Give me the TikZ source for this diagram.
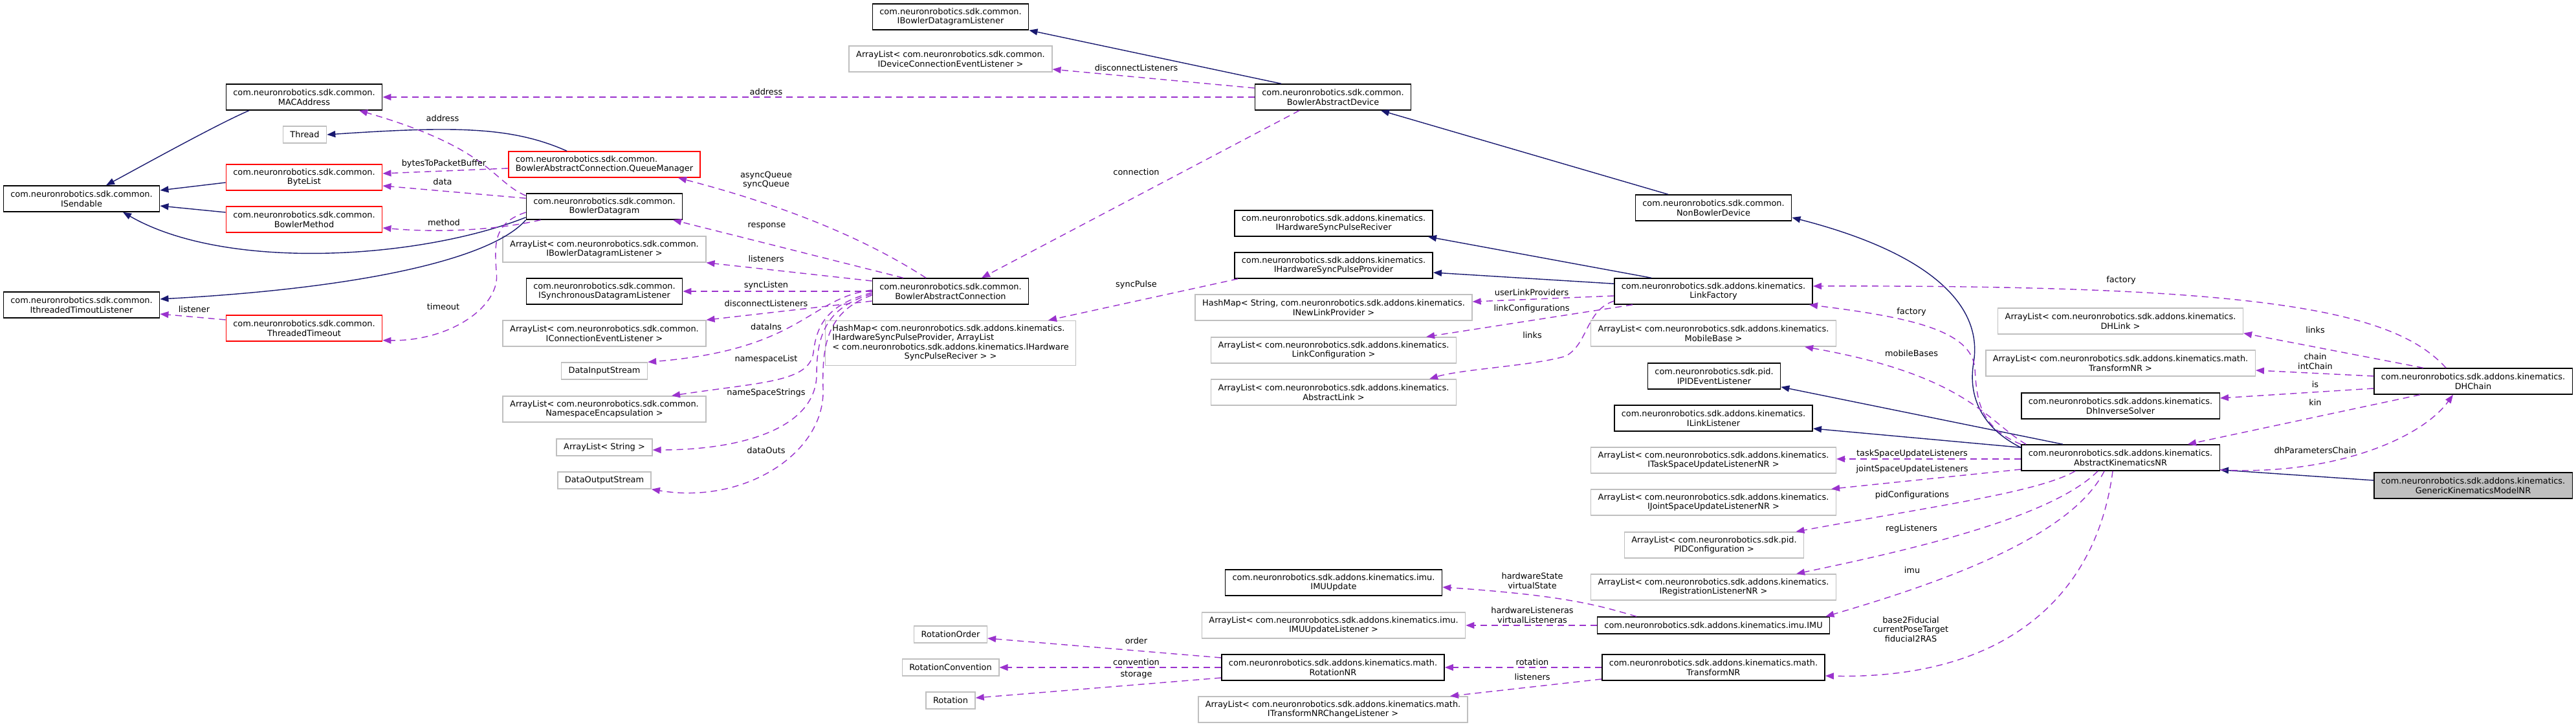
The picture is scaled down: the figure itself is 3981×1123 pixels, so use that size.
\documentclass[tikz,border=0pt]{standalone}
\usepackage{fontspec}
\setmainfont{DejaVu Sans}
\usetikzlibrary{arrows.meta}
\definecolor{cnavy}{HTML}{191970}
\definecolor{corchid}{HTML}{9A32CD}
\definecolor{cgrey}{HTML}{BFBFBF}
\definecolor{cred}{HTML}{FF0000}
\tikzset{
  every picture/.style={font=\fontsize{12.9}{14.6}\selectfont},
  cls/.style={draw=black, fill=white, line width=1.5pt, inner xsep=11pt, inner ysep=2pt, align=center, minimum height=40pt},
  ext/.style={cls, draw=cgrey},
  trunc/.style={cls, draw=cred},
  main/.style={cls, fill=cgrey},
  one/.style={minimum height=26pt},
  four/.style={minimum height=69pt},
  inh/.style={draw=cnavy, line width=1.4pt, -{Triangle[length=13pt, width=10pt]}},
  uses/.style={draw=corchid, line width=1.4pt, dash pattern=on 10pt off 7pt, -{Triangle[length=13pt, width=10pt]}},
  lbl/.style={align=center, inner sep=0pt},
}

\begin{document}
\begin{tikzpicture}[x=1pt, y=-1pt]
  \useasboundingbox (0,0) rectangle (3981,1123);
  % common: interfaces and datagram parts
  \node[cls] (isend) at (126,307) {com.neuronrobotics.sdk.common.\\ISendable};
  \node[cls] (itto) at (126,471) {com.neuronrobotics.sdk.common.\\IthreadedTimoutListener};
  \node[cls] (mac) at (470,150) {com.neuronrobotics.sdk.common.\\MACAddress};
  \node[ext, one] (thread) at (471,208) {Thread};
  \node[trunc] (bytelist) at (470,274) {com.neuronrobotics.sdk.common.\\ByteList};
  \node[trunc] (bmethod) at (470,339) {com.neuronrobotics.sdk.common.\\BowlerMethod};
  \node[trunc] (ttimeout) at (470,507) {com.neuronrobotics.sdk.common.\\ThreadedTimeout};
  % connection members
  \node[trunc, align=left] (qman) at (934,254) {com.neuronrobotics.sdk.common.\\BowlerAbstractConnection.QueueManager};
  \node[cls] (bdgram) at (934,319) {com.neuronrobotics.sdk.common.\\BowlerDatagram};
  \node[ext] (alibdl) at (934,385) {ArrayList< com.neuronrobotics.sdk.common.\\IBowlerDatagramListener >};
  \node[cls] (isdl) at (934,450) {com.neuronrobotics.sdk.common.\\ISynchronousDatagramListener};
  \node[ext] (alicel) at (934,515) {ArrayList< com.neuronrobotics.sdk.common.\\IConnectionEventListener >};
  \node[ext, one] (dis) at (934,573) {DataInputStream};
  \node[ext] (alnse) at (934,632) {ArrayList< com.neuronrobotics.sdk.common.\\NamespaceEncapsulation >};
  \node[ext, one] (alstr) at (934,691) {ArrayList< String >};
  \node[ext, one] (dos) at (934,742) {DataOutputStream};
  % device and connection
  \node[cls] (ibdl) at (1469,26) {com.neuronrobotics.sdk.common.\\IBowlerDatagramListener};
  \node[ext] (alidcel) at (1469,91) {ArrayList< com.neuronrobotics.sdk.common.\\IDeviceConnectionEventListener >};
  \node[cls] (bac) at (1469,450) {com.neuronrobotics.sdk.common.\\BowlerAbstractConnection};
  \node[ext, four] (hmsync) at (1469,530) {\begin{tabular}{@{}l@{}}HashMap< com.neuronrobotics.sdk.addons.kinematics.\\IHardwareSyncPulseProvider, ArrayList\\< com.neuronrobotics.sdk.addons.kinematics.IHardware\\\multicolumn{1}{@{}c@{}}{SyncPulseReciver > >}\end{tabular}};
  \node[ext, one] (rorder) at (1469,980) {RotationOrder};
  \node[ext, one] (rconv) at (1469,1031) {RotationConvention};
  \node[ext, one] (rot) at (1469,1082) {Rotation};
  \node[cls] (bad) at (2060,150) {com.neuronrobotics.sdk.common.\\BowlerAbstractDevice};
  % kinematics helpers
  \node[cls] (ihspr) at (2061,345) {com.neuronrobotics.sdk.addons.kinematics.\\IHardwareSyncPulseReciver};
  \node[cls] (ihspp) at (2061,410) {com.neuronrobotics.sdk.addons.kinematics.\\IHardwareSyncPulseProvider};
  \node[ext] (hmnlp) at (2061,475) {HashMap< String, com.neuronrobotics.sdk.addons.kinematics.\\INewLinkProvider >};
  \node[ext] (allc) at (2061,541) {ArrayList< com.neuronrobotics.sdk.addons.kinematics.\\LinkConfiguration >};
  \node[ext] (alal) at (2061,606) {ArrayList< com.neuronrobotics.sdk.addons.kinematics.\\AbstractLink >};
  \node[cls] (imuupd) at (2061,900) {com.neuronrobotics.sdk.addons.kinematics.imu.\\IMUUpdate};
  \node[ext] (alimuul) at (2061,966) {ArrayList< com.neuronrobotics.sdk.addons.kinematics.imu.\\IMUUpdateListener >};
  \node[cls] (rotnr) at (2060,1031) {com.neuronrobotics.sdk.addons.kinematics.math.\\RotationNR};
  \node[ext] (altnrcl) at (2060,1096) {ArrayList< com.neuronrobotics.sdk.addons.kinematics.math.\\ITransformNRChangeListener >};
  % kinematics column
  \node[cls] (nbd) at (2648,321) {com.neuronrobotics.sdk.common.\\NonBowlerDevice};
  \node[cls] (lfac) at (2648,450) {com.neuronrobotics.sdk.addons.kinematics.\\LinkFactory};
  \node[ext] (almb) at (2648,515) {ArrayList< com.neuronrobotics.sdk.addons.kinematics.\\MobileBase >};
  \node[cls] (ipidel) at (2649,581) {com.neuronrobotics.sdk.pid.\\IPIDEventListener};
  \node[cls] (illis) at (2648,646) {com.neuronrobotics.sdk.addons.kinematics.\\ILinkListener};
  \node[ext] (altsul) at (2648,711) {ArrayList< com.neuronrobotics.sdk.addons.kinematics.\\ITaskSpaceUpdateListenerNR >};
  \node[ext] (aljsul) at (2648,776) {ArrayList< com.neuronrobotics.sdk.addons.kinematics.\\IJointSpaceUpdateListenerNR >};
  \node[ext] (alpidc) at (2649,842) {ArrayList< com.neuronrobotics.sdk.pid.\\PIDConfiguration >};
  \node[ext] (alregl) at (2648,907) {ArrayList< com.neuronrobotics.sdk.addons.kinematics.\\IRegistrationListenerNR >};
  \node[cls, one] (imu) at (2648,966) {com.neuronrobotics.sdk.addons.kinematics.imu.IMU};
  \node[cls] (tnr) at (2648,1031) {com.neuronrobotics.sdk.addons.kinematics.math.\\TransformNR};
  % chain and model
  \node[ext] (aldhl) at (3277,496) {ArrayList< com.neuronrobotics.sdk.addons.kinematics.\\DHLink >};
  \node[ext] (altnr) at (3277,561) {ArrayList< com.neuronrobotics.sdk.addons.kinematics.math.\\TransformNR >};
  \node[cls] (dhis) at (3277,627) {com.neuronrobotics.sdk.addons.kinematics.\\DhInverseSolver};
  \node[cls] (akin) at (3277,707) {com.neuronrobotics.sdk.addons.kinematics.\\AbstractKinematicsNR};
  \node[cls] (dhc) at (3822,589) {com.neuronrobotics.sdk.addons.kinematics.\\DHChain};
  \node[main] (gkm) at (3822,750) {com.neuronrobotics.sdk.addons.kinematics.\\GenericKinematicsModelNR};

  % inheritance
  \draw[inh] ([xshift=-85pt]mac.south) .. controls (340,190) and (240,245) .. ([xshift=38pt]isend.north);
  \draw[inh] ([yshift=-8pt]bytelist.west) -- ([yshift=13pt]isend.east);
  \draw[inh] ([yshift=11pt]bmethod.west) -- ([yshift=-11pt]isend.east);
  \draw[inh] ([yshift=4pt]bdgram.south west) .. controls (650,400) and (350,420) .. ([xshift=64pt]isend.south);
  \draw[inh] (bdgram.south west) .. controls (760,400) and (560,445) .. ([yshift=9pt]itto.east);
  \draw[inh] ([xshift=-58pt]qman.north) .. controls (790,195) and (700,195) .. (thread.east);
  \draw[inh] ([xshift=-80pt]bad.north) -- (ibdl.south east);
  \draw[inh] ([xshift=-70pt]nbd.north) -- ([xshift=74pt]bad.south);
  \draw[inh] ([yshift=-5pt]akin.north west) .. controls (3070,665) and (3040,620) .. (3050,560)
    .. controls (3065,470) and (2980,390) .. ([yshift=-15pt]nbd.east);
  \draw[inh] ([xshift=-96pt]lfac.north) -- ([xshift=-8pt]ihspr.south east);
  \draw[inh] ([yshift=-9pt]lfac.north west) -- ([yshift=-11pt]ihspp.east);
  \draw[inh] ([xshift=-89pt]akin.north) -- ([yshift=4pt]ipidel.south east);
  \draw[inh] ([yshift=-5pt]akin.north west) -- ([yshift=-16pt]illis.east);
  \draw[inh] ([yshift=8pt]gkm.west) -- ([yshift=2pt]akin.south east);

  % usage: common
  \draw[uses] (bad.west) -- (mac.east);
  \draw[uses] ([yshift=-4pt]bdgram.north west) .. controls (760,280) and (760,230) .. ([xshift=85pt]mac.south);
  \draw[uses] ([yshift=-6pt]qman.west) -- ([yshift=6pt]bytelist.east);
  \draw[uses] ([yshift=-8pt]bdgram.north west) -- ([yshift=-13pt]bytelist.east);
  \draw[uses] ([xshift=23pt]bdgram.south west) .. controls (770,355) and (680,360) .. ([yshift=-13pt]bmethod.east);
  \draw[uses] ([yshift=-9pt]bdgram.west) .. controls (760,345) and (765,380) .. (767,420)
    .. controls (775,470) and (700,527) .. ([yshift=2pt]ttimeout.south east);
  \draw[uses] ([yshift=13pt]ttimeout.west) -- ([yshift=-14pt]itto.east);
  \draw[uses] ([yshift=14pt]bad.west) -- ([yshift=-16pt]alidcel.east);
  \draw[uses] ([xshift=-52pt]bad.south) -- ([xshift=48pt]bac.north);
  % usage: connection
  \draw[uses] ([xshift=-38pt]bac.north) .. controls (1370,390) and (1260,330) .. ([xshift=114pt]qman.south);
  \draw[uses] ([xshift=-73pt]bac.north) -- ([xshift=106pt]bdgram.south);
  \draw[uses] ([yshift=16pt]bac.west) -- (alibdl.south east);
  \draw[uses] (bac.west) -- (isdl.east);
  \draw[uses] ([yshift=-15pt]bac.west) -- (alicel.north east);
  \draw[uses] ([yshift=2pt]bac.west) .. controls (1250,460) and (1240,540) .. (dis.north east);
  \draw[uses] ([yshift=-2pt]bac.west) .. controls (1280,470) and (1262,500) .. (1257,545)
    .. controls (1250,590) and (1180,590) .. ([xshift=104pt]alnse.north);
  \draw[uses] ([yshift=-4pt]bac.west) .. controls (1275,475) and (1262,520) .. (1262,580)
    .. controls (1260,660) and (1150,695) .. ([yshift=-4pt]alstr.east);
  \draw[uses] ([yshift=-6pt]bac.west) .. controls (1280,480) and (1270,530) .. (1272,600)
    .. controls (1276,700) and (1150,780) .. (dos.south east);
  % usage: link factory
  \draw[uses] ([xshift=6pt]ihspp.south west) -- ([xshift=151pt]hmsync.north);
  \draw[uses] ([yshift=-7pt]lfac.west) -- ([yshift=9pt]hmnlp.east);
  \draw[uses] ([xshift=-125pt]lfac.south) -- ([xshift=-47pt]allc.north east);
  \draw[uses] ([yshift=-15pt]lfac.west) .. controls (2450,480) and (2455,530) .. (2420,550)
    .. controls (2370,565) and (2260,570) .. ([xshift=-42pt]alal.north east);
  \draw[uses] ([xshift=-42pt]dhc.north) .. controls (3700,480) and (3500,440) .. ([yshift=8pt]lfac.east);
  \draw[uses] (akin.north west) .. controls (3060,660) and (3055,620) .. (3052,570)
    .. controls (3048,510) and (2950,490) .. ([xshift=-6pt]lfac.south east);
  \draw[uses] ([xshift=8pt]akin.north west) .. controls (3070,650) and (3040,580) .. ([xshift=-49pt]almb.south east);
  % usage: chain
  \draw[uses] ([xshift=-77pt]dhc.north) -- ([yshift=2pt]aldhl.south east);
  \draw[uses] ([yshift=8pt]dhc.west) -- ([yshift=-11pt]altnr.east);
  \draw[uses] ([yshift=-11pt]dhc.west) -- ([yshift=12pt]dhis.east);
  \draw[uses] ([xshift=-82pt]dhc.south) -- ([xshift=104pt]akin.north);
  \draw[uses] ([yshift=2pt]akin.south east) .. controls (3600,735) and (3740,680) .. ([xshift=-31pt]dhc.south);
  % usage: kinematics members
  \draw[uses] ([yshift=-2pt]akin.west) -- ([yshift=2pt]altsul.east);
  \draw[uses] ([yshift=-18pt]akin.west) -- ([xshift=-8pt]aljsul.north east);
  \draw[uses] ([xshift=-70pt]akin.south) .. controls (3150,760) and (3000,780) .. ([xshift=-13pt]alpidc.north east);
  \draw[uses] ([xshift=-35pt]akin.south) .. controls (3170,800) and (2950,850) .. ([xshift=-62pt]alregl.north east);
  \draw[uses] ([xshift=-25pt]akin.south) .. controls (3200,830) and (3000,900) .. ([xshift=-7pt]imu.north east);
  \draw[uses] ([xshift=-12pt]akin.south) .. controls (3240,920) and (3100,1050) .. ([yshift=-13pt]tnr.east);
  \draw[uses] ([xshift=-119pt]imu.north) .. controls (2470,935) and (2420,920) .. ([yshift=-7pt]imuupd.east);
  \draw[uses] (imu.west) -- (alimuul.east);
  \draw[uses] (tnr.west) -- (rotnr.east);
  \draw[uses] ([yshift=-18pt]tnr.west) -- ([xshift=-28pt]altnrcl.north east);
  \draw[uses] ([yshift=15pt]rotnr.west) -- ([yshift=-6pt]rorder.east);
  \draw[uses] (rotnr.west) -- (rconv.east);
  \draw[uses] ([yshift=-16pt]rotnr.west) -- ([yshift=4pt]rot.east);

  % edge labels
  \node[lbl] (lbAddrDev) at (1184,142) {address};
  \node[lbl] (lbAddrDg) at (684,183) {address};
  \node[lbl] (lbBtpb) at (686,253) {bytesToPacketBuffer};
  \node[lbl] (lbData) at (684,281) {data};
  \node[lbl] (lbMethod) at (686,344) {method};
  \node[lbl] (lbTimeout) at (685,474) {timeout};
  \node[lbl] (lbListener) at (300,478) {listener};
  \node[lbl] (lbDiscDev) at (1756,105) {disconnectListeners};
  \node[lbl] (lbConn) at (1756,266) {connection};
  \node[lbl] (lbQueue) at (1184,278) {asyncQueue\\syncQueue};
  \node[lbl] (lbResp) at (1185,349) {response};
  \node[lbl] (lbListeners) at (1184,400) {listeners};
  \node[lbl] (lbSync) at (1184,441) {syncListen};
  \node[lbl] (lbDiscConn) at (1184,469) {disconnectListeners};
  \node[lbl] (lbDataIns) at (1184,505) {dataIns};
  \node[lbl] (lbNsList) at (1184,555) {namespaceList};
  \node[lbl] (lbNsStr) at (1184,607) {nameSpaceStrings};
  \node[lbl] (lbDataOuts) at (1184,696) {dataOuts};
  \node[lbl] (lbPulse) at (1756,440) {syncPulse};
  \node[lbl] (lbUserLP) at (2367,452) {userLinkProviders};
  \node[lbl] (lbLinkConf) at (2367,477) {linkConfigurations};
  \node[lbl] (lbLinks) at (2368,518) {links};
  \node[lbl] (lbFacDh) at (3278,433) {factory};
  \node[lbl] (lbFacKin) at (2954,482) {factory};
  \node[lbl] (lbMobile) at (2954,546) {mobileBases};
  \node[lbl] (lbDhLinks) at (3578,510) {links};
  \node[lbl] (lbChain) at (3578,558) {chain\\intChain};
  \node[lbl] (lbIs) at (3578,594) {is};
  \node[lbl] (lbKin) at (3578,622) {kin};
  \node[lbl] (lbDhPar) at (3578,696) {dhParametersChain};
  \node[lbl] (lbTask) at (2955,701) {taskSpaceUpdateListeners};
  \node[lbl] (lbJoint) at (2955,725) {jointSpaceUpdateListeners};
  \node[lbl] (lbPid) at (2955,765) {pidConfigurations};
  \node[lbl] (lbReg) at (2954,817) {regListeners};
  \node[lbl] (lbImu) at (2955,881) {imu};
  \node[lbl] (lbBase) at (2953,972) {base2Fiducial\\currentPoseTarget\\fiducial2RAS};
  \node[lbl] (lbHwState) at (2368,897) {hardwareState\\virtualState};
  \node[lbl] (lbHwList) at (2368,950) {hardwareListeneras\\virtualListeneras};
  \node[lbl] (lbRotation) at (2368,1023) {rotation};
  \node[lbl] (lbTListeners) at (2368,1046) {listeners};
  \node[lbl] (lbOrder) at (1756,990) {order};
  \node[lbl] (lbConv) at (1756,1023) {convention};
  \node[lbl] (lbStorage) at (1756,1042) {storage};
\end{tikzpicture}
\end{document}
